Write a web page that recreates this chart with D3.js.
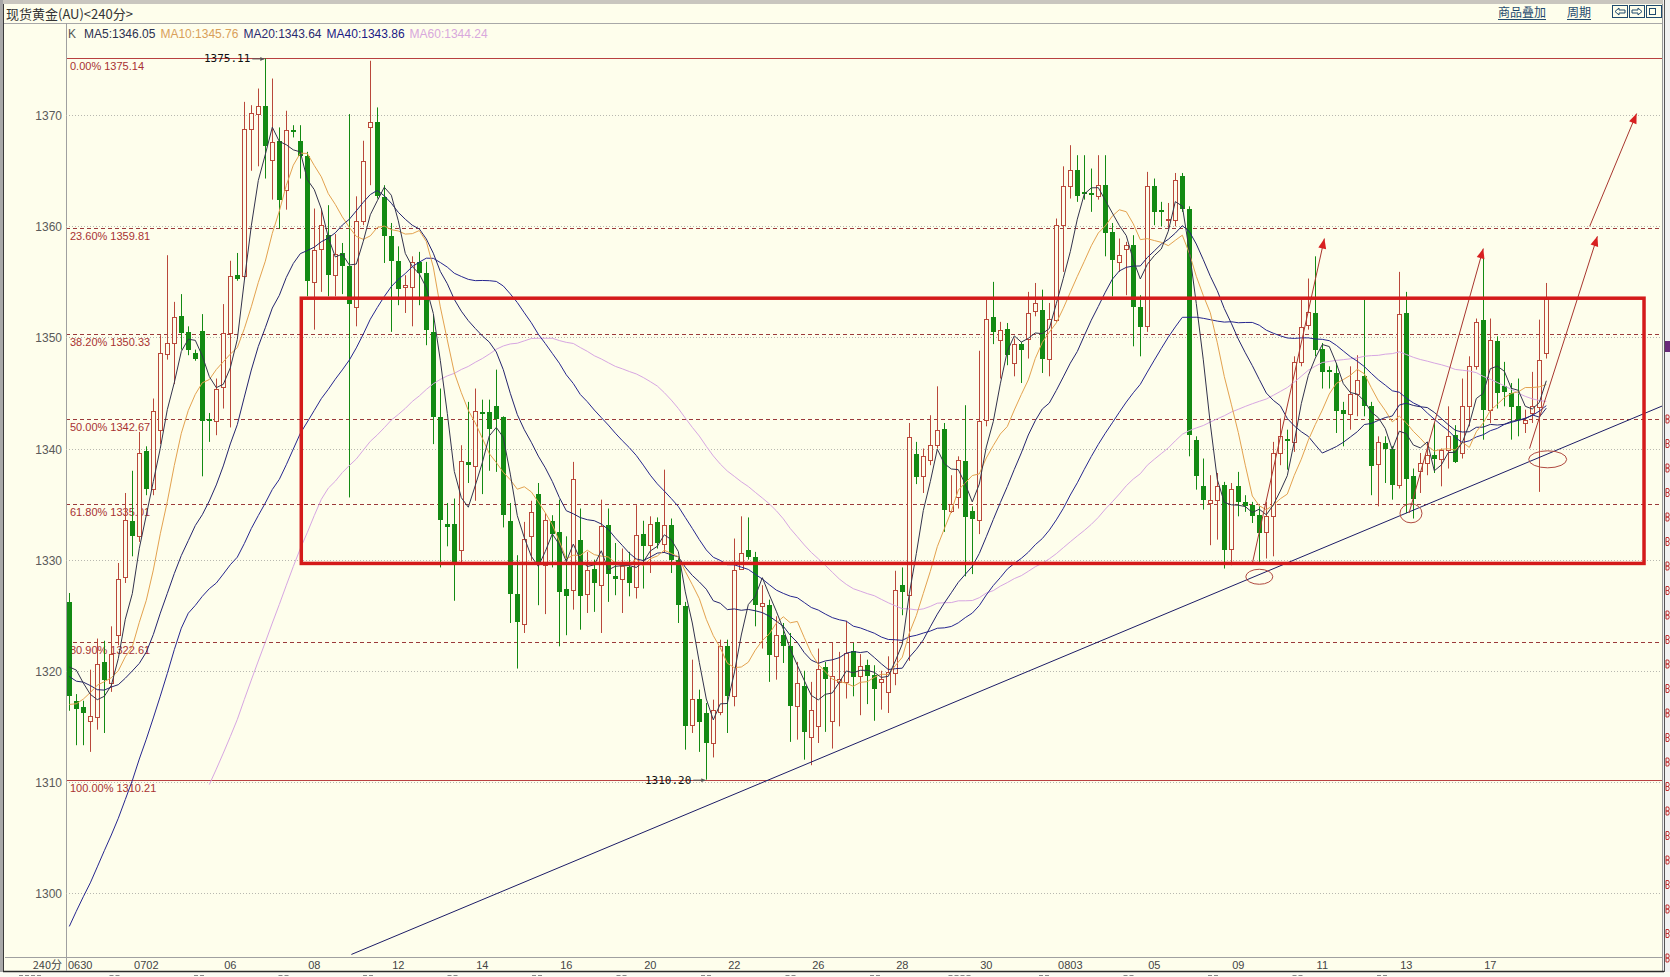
<!DOCTYPE html>
<html><head><meta charset="utf-8">
<script src="https://cdn.jsdelivr.net/npm/d3@7"></script>
<style>html,body{margin:0;padding:0;background:#fefeec;overflow:hidden}</style>
</head><body>
<svg id="c" width="1670" height="977"></svg>
<script>
// ---------------- DATA ----------------
const opens = [1326.2,1317.3,1316.7,1315.5,1315.8,1320.8,1318.9,1323.2,1328.4,1333.5,
1332.1,1339.8,1336.4,1341.7,1348.5,1349.5,1351.9,1350.5,1348.6,1350.6,
1342.7,1342.5,1345.5,1350.4,1355.6,1355.5,1368.8,1370.1,1370.8,1366.0,
1367.7,1363.3,1368.7,1367.7,1366.3,1355.0,1358.0,1359.2,1355.6,1357.6,
1356.4,1352.7,1360.5,1368.9,1369.4,1362.6,1359.1,1356.9,1354.5,1354.5,
1356.8,1355.8,1350.5,1342.8,1333.2,1333.2,1330.9,1338.8,1338.4,1343.3,
1343.3,1343.8,1342.8,1333.5,1326.9,1324.2,1332.1,1335.9,1329.5,1333.5,
1332.5,1327.4,1327.3,1331.8,1326.9,1329.2,1327.7,1333.1,1328.5,1328.3,
1329.3,1327.5,1332.3,1331.3,1333.4,1331.4,1333.1,1330.0,1325.8,1315.1,
1317.5,1316.2,1313.5,1316.3,1322.2,1317.7,1329.2,1330.9,1330.2,1325.8,
1325.9,1321.3,1323.2,1322.2,1316.8,1318.6,1314.0,1315.0,1320.3,1315.5,
1319.0,1319.0,1321.8,1319.5,1320.5,1319.6,1319.0,1318.1,1319.8,1327.7,
1326.8,1339.5,1337.5,1339.0,1340.3,1341.8,1334.4,1335.6,1338.9,1334.4,
1333.6,1342.6,1351.8,1349.8,1350.8,1347.7,1349.4,1349.9,1352.4,1352.5,
1348.1,1351.6,1360.1,1363.6,1365.1,1363.1,1363.0,1362.7,1363.7,1359.5,
1356.8,1358.0,1358.3,1352.7,1351.0,1363.6,1361.5,1360.6,1360.6,1364.5,
1361.6,1340.8,1336.6,1335.1,1335.4,1336.7,1331.0,1336.6,1335.2,1334.9,
1334.0,1332.5,1333.9,1339.6,1340.9,1340.6,1347.8,1351.1,1352.2,1349.0,
1347.1,1346.8,1343.5,1343.1,1344.9,1346.5,1343.8,1338.6,1340.5,1340.0,
1336.7,1352.2,1337.5,1338.0,1338.7,1339.4,1339.1,1339.9,1341.2,1339.6,
1343.8,1347.4,1351.6,1343.5,1349.7,1345.6,1345.0,1343.8,1342.3,1343.2,
1343.7,1348.6];
const highs = [1327.0,1317.9,1317.3,1320.1,1322.9,1322.7,1324.0,1329.7,1336.0,1338.0,
1341.5,1340.2,1344.5,1350.2,1357.4,1353.2,1353.9,1351.0,1348.9,1352.1,
1343.2,1346.3,1353.0,1356.9,1357.6,1371.2,1370.9,1372.4,1375.11,1373.3,
1368.9,1370.4,1369.1,1369.1,1366.7,1361.6,1361.6,1361.9,1359.3,1358.5,
1370.1,1362.7,1367.7,1374.9,1370.7,1363.7,1360.3,1358.2,1355.6,1357.3,
1357.7,1356.8,1352.0,1345.4,1335.1,1335.5,1340.3,1344.2,1345.4,1344.4,
1344.4,1347.1,1342.9,1335.1,1330.4,1333.4,1335.3,1336.9,1334.2,1334.0,
1335.4,1332.1,1338.8,1334.6,1330.7,1330.0,1335.4,1334.6,1331.5,1331.0,
1330.7,1334.9,1333.5,1333.9,1333.8,1338.1,1333.7,1330.3,1326.2,1321.0,
1318.3,1317.1,1317.4,1322.8,1322.8,1331.9,1333.9,1333.8,1330.7,1327.7,
1326.4,1324.9,1324.3,1323.4,1320.8,1320.0,1319.0,1322.0,1320.8,1322.5,
1321.7,1324.5,1322.5,1321.5,1321.0,1320.5,1320.0,1321.3,1329.0,1329.3,
1342.3,1340.6,1340.0,1343.0,1345.6,1342.3,1337.6,1339.3,1343.9,1334.8,
1348.8,1353.4,1355.0,1351.4,1351.3,1349.9,1349.6,1354.1,1354.9,1354.3,
1353.1,1360.7,1365.4,1367.3,1366.4,1366.4,1365.2,1366.4,1366.4,1360.3,
1358.9,1358.6,1359.2,1353.8,1364.9,1364.3,1362.2,1362.1,1364.8,1364.8,
1361.8,1341.1,1339.1,1337.6,1337.8,1337.0,1336.9,1337.9,1335.8,1335.2,
1334.8,1335.2,1340.6,1342.7,1341.7,1348.3,1353.4,1355.3,1357.3,1349.5,
1347.4,1347.7,1344.2,1347.4,1348.4,1353.4,1344.2,1341.1,1341.1,1340.2,
1355.9,1354.1,1338.2,1339.6,1340.5,1342.3,1340.0,1343.8,1342.1,1346.3,
1348.3,1351.7,1357.4,1351.7,1350.1,1347.8,1345.9,1346.3,1343.5,1346.9,
1351.6,1354.9];
const lows = [1316.4,1313.3,1313.3,1312.7,1314.7,1314.4,1318.1,1322.3,1327.9,1330.3,
1331.6,1335.8,1335.8,1340.4,1348.0,1345.8,1348.9,1348.4,1347.9,1337.5,
1340.6,1341.2,1343.6,1341.9,1355.1,1355.2,1365.0,1365.4,1364.3,1362.4,
1359.8,1361.5,1368.0,1364.3,1353.7,1350.7,1354.1,1353.7,1353.7,1353.9,
1335.6,1351.0,1360.1,1363.7,1362.5,1356.7,1350.5,1352.9,1352.2,1351.0,
1352.9,1349.3,1340.4,1329.3,1331.2,1326.3,1329.7,1336.9,1335.3,1335.9,
1338.0,1337.9,1332.9,1324.3,1320.2,1323.4,1329.9,1325.9,1325.1,1329.3,
1322.2,1323.2,1325.5,1323.7,1325.2,1325.3,1323.4,1326.2,1326.8,1325.2,
1326.7,1326.5,1327.4,1328.8,1331.0,1330.6,1328.8,1324.3,1312.9,1314.4,
1312.7,1310.2,1312.2,1316.0,1314.4,1316.8,1329.2,1330.0,1324.0,1322.0,
1319.0,1319.2,1320.7,1313.6,1313.8,1312.0,1311.5,1313.5,1314.5,1313.0,
1315.0,1317.5,1317.7,1316.0,1317.0,1315.5,1316.5,1316.2,1318.7,1325.0,
1320.9,1336.8,1336.0,1338.5,1340.0,1332.5,1334.2,1334.6,1328.5,1328.7,
1332.3,1342.0,1349.4,1346.3,1347.5,1346.5,1345.9,1348.1,1351.9,1346.8,
1346.5,1351.4,1355.9,1362.5,1362.2,1362.4,1361.3,1362.4,1357.3,1353.7,
1355.9,1353.8,1349.2,1348.3,1350.5,1360.1,1360.0,1359.8,1360.0,1361.3,
1339.3,1336.3,1334.5,1331.3,1331.8,1329.2,1329.5,1333.9,1334.3,1333.3,
1329.8,1330.1,1330.3,1338.5,1338.1,1339.7,1347.4,1350.7,1348.3,1345.4,
1345.4,1341.4,1340.2,1341.7,1342.9,1342.9,1335.8,1334.8,1336.9,1335.4,
1336.4,1334.2,1333.7,1336.0,1337.6,1337.8,1336.6,1338.2,1338.7,1339.1,
1342.0,1347.1,1340.8,1342.3,1343.6,1343.8,1340.8,1341.1,1341.4,1342.3,
1336.1,1348.1];
const closes = [1317.7,1316.6,1316.2,1315.9,1320.6,1319.2,1321.5,1328.3,1333.6,1332.1,
1339.6,1336.4,1343.4,1348.6,1349.5,1351.8,1350.4,1348.9,1348.1,1342.5,
1342.5,1345.4,1350.4,1355.5,1355.3,1368.8,1370.2,1370.8,1367.2,1367.6,
1362.4,1368.7,1368.5,1366.3,1355.1,1357.9,1360.1,1355.6,1357.5,1356.4,
1353.0,1360.5,1365.9,1369.4,1362.7,1359.1,1356.9,1354.4,1354.7,1356.8,
1355.8,1350.7,1342.8,1333.6,1332.9,1329.7,1338.9,1338.5,1343.4,1343.1,
1341.8,1342.7,1334.0,1326.9,1324.4,1331.9,1334.3,1329.5,1333.6,1332.3,
1327.1,1326.7,1337.3,1326.7,1329.1,1327.9,1333.0,1328.7,1328.3,1329.4,
1327.9,1332.2,1331.2,1333.2,1331.5,1333.1,1330.0,1325.9,1315.0,1317.5,
1315.4,1313.5,1316.5,1322.2,1317.7,1329.1,1330.6,1330.2,1325.9,1326.1,
1321.4,1323.2,1322.2,1316.8,1318.9,1314.5,1316.5,1320.2,1319.3,1319.5,
1319.3,1321.6,1319.4,1320.4,1319.5,1318.4,1319.3,1319.9,1327.3,1327.1,
1341.0,1337.4,1339.3,1340.3,1341.7,1334.5,1335.0,1339.0,1333.8,1333.7,
1342.5,1351.7,1350.5,1350.7,1348.4,1349.4,1348.9,1352.2,1353.1,1348.1,
1351.7,1360.1,1363.6,1365.1,1362.7,1363.0,1362.9,1363.7,1359.4,1357.0,
1357.4,1358.3,1352.7,1350.9,1363.6,1361.3,1361.3,1360.7,1364.2,1361.6,
1341.2,1337.5,1335.4,1335.4,1336.6,1330.9,1336.4,1335.2,1334.8,1333.9,
1332.4,1333.9,1339.6,1341.1,1340.8,1347.8,1350.9,1352.3,1348.9,1346.9,
1346.9,1343.4,1343.1,1344.9,1346.2,1343.8,1338.4,1340.6,1340.0,1336.7,
1352.1,1337.3,1335.5,1338.7,1339.4,1339.1,1339.9,1341.1,1338.8,1343.8,
1347.4,1351.4,1343.5,1349.8,1345.0,1345.1,1343.7,1342.6,1342.6,1343.8,
1348.0,1353.5];
// closes before the first visible bar (not drawn; estimated from where the MA lines start)
const priorCloses = [1262,1264,1266,1263,1261,1265,1268,1266,1264,1262,1265,1267,1270,1268,1266,1273,
1295,1320,1310,1315,
1325,1318,1322,1328,1320,1316,1324,1322,1319,1326,
1316,1312,1310,1314,1316,
1318,1322,1321,1323];
const maPeriods = [5,10,20,40,60];
const maLegendValues = ["1346.05","1345.76","1343.64","1343.86","1344.24"];
const dateLabels = ["0630","0702","06","08","12","14","16","20","22","26","28","30","0803","05","09","11","13","17"];
const dateLabelBars = [0,11,23,35,47,59,71,83,95,107,119,131,143,155,167,179,191,203];
const yTicks = [1300,1310,1320,1330,1340,1350,1360,1370];
const fibPercents = ["0.00%","23.60%","38.20%","50.00%","61.80%","80.90%","100.00%"];
const fibPrices = [1375.14,1359.81,1350.33,1342.67,1335.01,1322.61,1310.21];
// drawn annotations, in (bar index, price)
const boxBars = [33.14, 224.96];
const boxPrices = [1329.66, 1353.53];
const trendBars = [40.3, 228.7];
const trendPrices = [1294.47, 1344.13];
const arrowFromBars = [169.0, 191.4, 208.6, 217.2];
const arrowFromPrices = [1329.65, 1334.2, 1340.0, 1360.0];
const arrowToBars = [179.3, 202.0, 218.3, 223.9];
const arrowToPrices = [1358.9, 1358.0, 1359.1, 1370.15];
const ellipseBars = [170.0, 191.67, 211.2];
const ellipsePrices = [1328.46, 1334.17, 1339.03];
const extremeLabels = ["1375.11","1310.20"];
const extremeBars = [28, 91];
const extremePrices = [1375.11, 1310.20];
const lowerWindowLabelChars = [4,2,2,2,2,2,2,2,2,2,2,4,2,2,2,2,2];

// ---------------- DRAWING ----------------
const W = 1670, H = 977;
const P = {left:66, right:1662, top:23, bottom:957};
const svg = d3.select('#c');
const FONT = "'Liberation Sans', Arial, sans-serif";
const CJK = "'Noto Sans CJK SC', sans-serif";

const x = d3.scaleLinear().domain([0, 211]).range([69.3, 69.3 + 7*211]);
const y = d3.scaleLinear().domain([1300, 1370]).range([893.0, 115.2]);

svg.append('rect').attr('width', W).attr('height', H).attr('fill', '#fefeec');

// window chrome
svg.append('rect').attr('x',0).attr('y',0).attr('width',W).attr('height',4).attr('fill','#c9c6bf');
svg.append('rect').attr('x',0).attr('y',0).attr('width',3).attr('height',H).attr('fill','#a8a8a8');
svg.append('line').attr('x1',3.5).attr('x2',3.5).attr('y1',4).attr('y2',972).attr('stroke','#3a3a3a');
svg.append('rect').attr('x',1663).attr('y',0).attr('width',7).attr('height',H).attr('fill','#f2f2f2');
svg.append('line').attr('x1',1662.5).attr('x2',1662.5).attr('y1',4).attr('y2',972).attr('stroke','#999');
svg.append('line').attr('x1',1664.5).attr('x2',1664.5).attr('y1',0).attr('y2',H).attr('stroke','#555');
svg.append('rect').attr('x',1665).attr('y',341).attr('width',5).attr('height',11).attr('fill','#6a2a7a');
// fragments of a neighbouring panel at the right edge (small red glyph pieces)
d3.range(415, 960, 24.5).forEach(v => {
  svg.append('path').attr('d',`M1666,${v}v8M1666,${v}h2.5q1.5,2 0,4h-2.5M1666,${v+4}h2.5q1.5,2 0,4h-2.5`)
    .attr('fill','none').attr('stroke','#c03030').attr('stroke-width',1);
});
svg.append('rect').attr('x',0).attr('y',972).attr('width',W).attr('height',5).attr('fill','#fbfbf3');
svg.append('line').attr('x1',3).attr('x2',1664).attr('y1',971.5).attr('y2',971.5).attr('stroke','#2a2a2a').attr('stroke-width',1.5);
// tops of the axis labels of the window below (cut off by the picture edge)
lowerWindowLabelChars.forEach((n,k) => {
  const cx = 30 + k*84.5, w = n*6;
  for (let j = 0; j < n; j++) {
    svg.append('rect').attr('x', cx - w/2 + j*6 + 1).attr('y', 975).attr('width', 4).attr('height', 1)
      .attr('fill', '#888');
  }
});

// title row
svg.append('text').attr('x',6).attr('y',19).attr('font-family',CJK).attr('font-size',13).attr('fill','#333')
  .text('现货黄金(AU)<240分>');
svg.append('line').attr('x1',4).attr('x2',1662).attr('y1',23.5).attr('y2',23.5).attr('stroke','#a8a8a8');
const linkCol = '#1f4a6e';
[['商品叠加',1498],['周期',1567]].forEach(([t,xx]) => {
  const tt = svg.append('text').attr('x',xx).attr('y',17).attr('font-family',CJK).attr('font-size',12)
    .attr('fill',linkCol).text(t);
  const w = tt.node().getComputedTextLength();
  svg.append('line').attr('x1',xx).attr('x2',xx+w).attr('y1',19.5).attr('y2',19.5).attr('stroke',linkCol);
});
[1612,1629,1646].forEach((bx,k) => {
  svg.append('rect').attr('x',bx+0.5).attr('y',5.5).attr('width',15).attr('height',12)
    .attr('fill','none').attr('stroke',linkCol);
  if (k===0) svg.append('path').attr('d',`M${bx+3},11.5L${bx+7},8L${bx+7},10L${bx+13},10L${bx+13},13L${bx+7},13L${bx+7},15Z`).attr('fill','none').attr('stroke',linkCol);
  if (k===1) svg.append('path').attr('d',`M${bx+13},11.5L${bx+9},8L${bx+9},10L${bx+3},10L${bx+3},13L${bx+9},13L${bx+9},15Z`).attr('fill','none').attr('stroke',linkCol);
  if (k===2) svg.append('rect').attr('x',bx+3.5).attr('y',8.5).attr('width',6).attr('height',6).attr('fill','none').attr('stroke',linkCol);
});

// axes frame
svg.append('line').attr('x1',P.left+0.5).attr('x2',P.left+0.5).attr('y1',P.top).attr('y2',971).attr('stroke','#a0a0a0');
svg.append('line').attr('x1',5).attr('x2',P.right).attr('y1',P.bottom+0.5).attr('y2',P.bottom+0.5).attr('stroke','#a0a0a0');

// legend
const maLegendColors = ['#2b3050','#d9a05a','#2a2a70','#1a1a85','#d8a8dc'];
let lx = 68;
[{t:'K', c:'#555'}].concat(maPeriods.map((p,k)=>({t:`MA${p}:${maLegendValues[k]}`, c:maLegendColors[k]})))
  .forEach((it,k) => {
    const t = svg.append('text').attr('x',lx).attr('y',38).attr('font-family',FONT).attr('font-size',12)
      .attr('fill',it.c).text(it.t);
    lx += t.node().getComputedTextLength() + (k===0 ? 8 : 5);
  });

// y axis labels + dotted grid
yTicks.forEach(v => {
  const yy = Math.round(y(v)) + 0.5;
  svg.append('line').attr('x1',P.left).attr('x2',P.right).attr('y1',yy).attr('y2',yy)
    .attr('stroke','#b8b8b0').attr('stroke-dasharray','1,2');
  svg.append('text').attr('x',62).attr('y',yy).attr('dy','0.35em').attr('text-anchor','end')
    .attr('font-family',FONT).attr('font-size',12).attr('fill','#5a5a5a').text(v);
});

// x axis labels
svg.append('text').attr('x',62).attr('y',969).attr('text-anchor','end').attr('font-family',CJK)
  .attr('font-size',11).attr('fill','#444').text('240分');
dateLabels.forEach((t,k) => {
  const b = dateLabelBars[k];
  svg.append('text').attr('x', k===0 ? 68 : x(b)).attr('y',969)
    .attr('text-anchor', k===0 ? 'start' : 'middle')
    .attr('font-family',FONT).attr('font-size',11).attr('fill','#444').text(t);
});

// clip
svg.append('clipPath').attr('id','clip').append('rect')
  .attr('x',P.left+1).attr('y',P.top+1).attr('width',P.right-P.left-1).attr('height',P.bottom-P.top-1);
const g = svg.append('g').attr('clip-path','url(#clip)');

// fibonacci lines + labels
fibPrices.forEach((v,k) => {
  const yy = Math.round(y(v)) + 0.5;
  const solid = (k===0 || k===fibPrices.length-1);
  g.append('line').attr('x1',P.left).attr('x2',P.right).attr('y1',yy).attr('y2',yy)
    .attr('stroke', solid ? '#b84040' : '#9b3a3a')
    .attr('stroke-dasharray', solid ? null : '4,3');
  g.append('text').attr('x',70).attr('y',yy+11).attr('font-family',FONT).attr('font-size',11)
    .attr('fill','#a83232').text(fibPercents[k] + ' ' + v.toFixed(2));
});

// candles
const upCol = '#b9483a', dnCol = '#138a13';
closes.forEach((c,i) => {
  const o = opens[i], h = highs[i], l = lows[i];
  const cx = Math.round(x(i));
  const yO = y(o), yC = y(c), yH = y(h), yL = y(l);
  const top = Math.round(Math.min(yO,yC)), bot = Math.round(Math.max(yO,yC));
  if (c >= o) {
    g.append('line').attr('x1',cx+0.5).attr('x2',cx+0.5).attr('y1',yH).attr('y2',top)
      .attr('stroke',upCol);
    g.append('line').attr('x1',cx+0.5).attr('x2',cx+0.5).attr('y1',Math.max(bot,top+1)).attr('y2',yL)
      .attr('stroke',upCol);
    g.append('rect').attr('x',cx-1.5).attr('y',top+0.5).attr('width',4).attr('height',Math.max(bot-top,1))
      .attr('fill','#fefeec').attr('stroke',upCol);
  } else {
    g.append('line').attr('x1',cx+0.5).attr('x2',cx+0.5).attr('y1',yH).attr('y2',yL)
      .attr('stroke',dnCol);
    g.append('rect').attr('x',cx-2).attr('y',top).attr('width',5).attr('height',Math.max(bot-top,2))
      .attr('fill',dnCol);
  }
});

// moving averages
const allCloses = priorCloses.concat(closes);
const NP = priorCloses.length;
function movingAverage(n) {
  return closes.map((c,i) => {
    const end = NP + i;
    if (end - n + 1 < 0) return null;
    let s = 0;
    for (let k = end - n + 1; k <= end; k++) s += allCloses[k];
    return s / n;
  });
}
const maLineColors = ['#33334c','#e3a24f','#24246e','#26268f','#d7a6e2'];
const line = d3.line().defined(d => d[1] !== null).x(d => x(d[0])).y(d => y(d[1]));
[4,3,2,1,0].forEach(k => {
  const vals = movingAverage(maPeriods[k]);
  g.append('path').attr('d', line(vals.map((v,i)=>[i,v]))).attr('fill','none')
    .attr('stroke', maLineColors[k]).attr('stroke-width',1);
});

// extreme price labels
extremeLabels.forEach((t,k) => {
  const bx = x(extremeBars[k]), by = y(extremePrices[k]);
  g.append('text').attr('x',bx-15).attr('y',by).attr('dy','0.35em').attr('text-anchor','end')
    .attr('font-family',"'DejaVu Sans Mono', monospace").attr('font-size',11).attr('fill','#111').text(t);
  g.append('line').attr('x1',bx-13).attr('x2',bx-1).attr('y1',by+0.5).attr('y2',by+0.5).attr('stroke','#555');
  g.append('path').attr('d',`M${bx-1},${by+0.5}L${bx-5},${by-1.5}L${bx-5},${by+2.5}Z`).attr('fill','#555');
});

// trend line
g.append('line').attr('x1',x(trendBars[0])).attr('y1',y(trendPrices[0]))
  .attr('x2',x(trendBars[1])).attr('y2',y(trendPrices[1])).attr('stroke','#1c1c66').attr('stroke-width',1);

// red box
svg.append('rect').attr('x',x(boxBars[0])).attr('y',y(boxPrices[1]))
  .attr('width',x(boxBars[1])-x(boxBars[0])).attr('height',y(boxPrices[0])-y(boxPrices[1]))
  .attr('fill','none').attr('stroke','#d41a1a').attr('stroke-width',3.5);

// ellipses
const ellipseRx = [13.5, 11, 19], ellipseRy = [7.5, 9.5, 8.5];
ellipseBars.forEach((b,k) => {
  g.append('ellipse').attr('cx',x(b)).attr('cy',y(ellipsePrices[k])).attr('rx',ellipseRx[k]).attr('ry',ellipseRy[k])
    .attr('fill','none').attr('stroke','#b04a40').attr('stroke-width',1);
});

// arrows
function head(x1,y1,x2,y2,len,hw){
  const a = Math.atan2(y2-y1, x2-x1);
  const bx = x2 - len*Math.cos(a), by = y2 - len*Math.sin(a);
  const px = -Math.sin(a)*hw, py = Math.cos(a)*hw;
  return `M${x2},${y2}L${bx+px},${by+py}L${bx-px},${by-py}Z`;
}
arrowFromBars.forEach((b,k) => {
  const x1 = x(b), y1 = y(arrowFromPrices[k]), x2 = x(arrowToBars[k]), y2 = y(arrowToPrices[k]);
  g.append('line').attr('x1',x1).attr('y1',y1).attr('x2',x2).attr('y2',y2).attr('stroke','#a8362e').attr('stroke-width',1);
  g.append('path').attr('d',head(x1,y1,x2,y2,10,4)).attr('fill','#d82020');
});
</script>
</body></html>
